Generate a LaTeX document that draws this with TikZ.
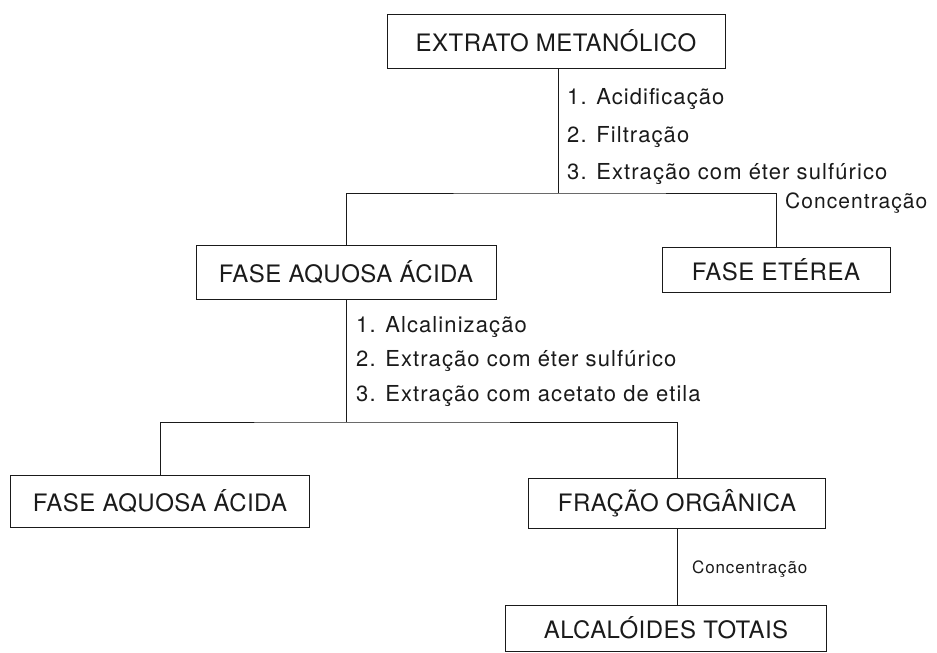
\documentclass[tikz,border=0pt]{standalone}
\usepackage{fontspec}
\setmainfont{TeX Gyre Heros}
\newfontfamily\boxfont[LetterSpace=2]{TeX Gyre Heros}
\newfontfamily\labfont[LetterSpace=5]{TeX Gyre Heros}
\usepackage{xcolor}
\usepackage{tikz}
\definecolor{ink}{HTML}{1A1A1A}
\tikzset{
  fbox/.style={draw=ink, line width=0.9pt, inner sep=0pt, text=ink,
    font=\boxfont\fontsize{24}{28}\selectfont},
  link/.style={draw=ink, line width=0.9pt},
  stepl/.style={anchor=west, inner sep=0pt, text=ink,
    font=\labfont\fontsize{22}{26}\selectfont},
  concl/.style={anchor=west, inner sep=0pt, text=ink}
}
\begin{document}
\begin{tikzpicture}[x=1pt, y=-1pt]
  \useasboundingbox (0,0) rectangle (937,653);
  % boxes
  \node[fbox, minimum width=338, minimum height=54] (extrato) at (556,41) {EXTRATO METANÓLICO};
  \node[fbox, minimum width=300, minimum height=54] (aquosa) at (346,272) {FASE AQUOSA ÁCIDA};
  \node[fbox, minimum width=228, minimum height=45] (eterea) at (776,270) {FASE ETÉREA};
  \node[fbox, minimum width=299, minimum height=52] (aquosa2) at (160,501) {FASE AQUOSA ÁCIDA};
  \node[fbox, minimum width=297, minimum height=50] (fracao) at (677,503) {FRAÇÃO ORGÂNICA};
  \node[fbox, minimum width=321, minimum height=46] (alcal) at (666,628) {ALCALÓIDES TOTAIS};
  % branch points
  \coordinate (j1) at (558,193);
  \coordinate (j2) at (346,422);
  \draw[link] (extrato.south -| j1) -- (j1);
  \draw[link] (aquosa.north) |- (j1) -| (eterea.north);
  \draw[link] (aquosa.south) -- (j2);
  \draw[link] (aquosa2.north) |- (j2) -| (fracao.north);
  \draw[link] (fracao.south) -- (fracao.south |- alcal.north);
  % steps
  \node[stepl] (s11) at (567,99) {1. Acidificação};
  \node[stepl] (s12) at (567,137) {2. Filtração};
  \node[stepl] (s13) at (567,174) {3. Extração com éter sulfúrico};
  \node[concl, font=\labfont\fontsize{21}{25}\selectfont] (c1) at (785,203) {Concentração};
  \node[stepl] (s21) at (356,327) {1. Alcalinização};
  \node[stepl] (s22) at (356,361) {2. Extração com éter sulfúrico};
  \node[stepl] (s23) at (356,396) {3. Extração com acetato de etila};
  \node[concl, font=\labfont\fontsize{17}{21}\selectfont] (c2) at (692,569) {Concentração};
\end{tikzpicture}
\end{document}
